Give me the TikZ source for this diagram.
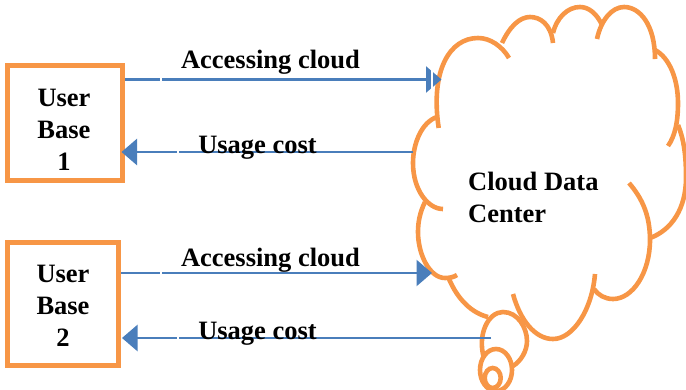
\documentclass[tikz,border=0pt]{standalone}
\usepackage{fontspec}
\setmainfont{Liberation Serif}
\usetikzlibrary{arrows.meta,calc}
\definecolor{cloudorange}{HTML}{F79646}
\definecolor{linkblue}{HTML}{4A7EBB}
\tikzset{
  x=1pt,y=-1pt,
  boldtext/.style={font=\fontsize{26.5}{32}\selectfont\bfseries,inner sep=0pt},
  userbox/.style={draw=cloudorange,line width=5pt,inner sep=0pt},
  usertext/.style={boldtext,align=center},
  lobe/.style={draw=cloudorange,line width=4.6pt},
  link/.style={draw=linkblue,line width=2.6pt,-{Triangle[length=15.5pt,width=26pt,fill=linkblue]}},
  gap/.style={draw=white,line width=1.2pt},
}
\begin{document}
\begin{tikzpicture}
\useasboundingbox (0,0) rectangle (686,389);
\clip (0,0) rectangle (686,389);
% cloud lobes
\draw[lobe] (438.7,128) .. controls (430,70) and (450,38) .. (478,38) .. controls (490,38) and (502,46) .. (509,58);
\draw[lobe] (502,43) .. controls (510,26) and (520,17) .. (530,17) .. controls (540,17) and (551,24) .. (553,43);
\draw[lobe] (553,33) .. controls (557,17) and (568,7) .. (580,7) .. controls (589,7) and (597,14) .. (602,25);
\draw[lobe] (597,39) .. controls (601,20) and (612,7) .. (624,7) .. controls (640,7) and (655,25) .. (655,59);
\draw[lobe] (655,50) .. controls (670,58) and (678,80) .. (678,103) .. controls (678,122) and (675,136) .. (668,146);
\draw[lobe] (678,125) .. controls (684,140) and (686,155) .. (686,178) .. controls (686,208) and (672,230) .. (650,238);
\draw[lobe] (629,183) .. controls (642,198) and (650,215) .. (650,240) .. controls (650,272) and (633,299) .. (613,299) .. controls (605,299) and (598,295) .. (594,289);
\draw[lobe] (595,274) .. controls (592,310) and (573,339) .. (553,339) .. controls (535,339) and (520,320) .. (513,294);
\draw[lobe] (449,279) .. controls (458,300) and (472,313) .. (488,317);
\draw[lobe] (425,202) .. controls (420,212) and (418,222) .. (418,232) .. controls (418,255) and (430,278) .. (445,278) .. controls (450,278) and (454,277) .. (457,275);
\draw[lobe] (437,117) .. controls (422,122) and (413,143) .. (413,163) .. controls (413,190) and (428,209) .. (443,209);
% small puffs
\draw[lobe] (484,358) .. controls (477,335) and (488,312) .. (503,312) .. controls (518,312) and (527,328) .. (527,341) .. controls (527,351) and (521,361) .. (513,366);
\draw[lobe] (496,370) ellipse (16 and 21);
\draw[lobe] (492.7,378) ellipse (8 and 10);
% nodes
\node[userbox,minimum width=115pt,minimum height=115pt] (ub1) at (65,123) {};
\node[userbox,minimum width=111pt,minimum height=123pt] (ub2) at (63,304) {};
\node[usertext] (ub1t) at (64,129.5) {User\\Base\\1};
\node[usertext] (ub2t) at (63,305.5) {User\\Base\\2};
\coordinate (cloudin1) at (441.5,79.5);
\coordinate (cloudout1) at (413,152);
\coordinate (cloudin2) at (432,273);
\coordinate (cloudout2) at (491,338);
\node[boldtext,align=left,anchor=north west] (dc) at (468,172) {Cloud Data\\Center};
% connectors
\draw[link] (ub1.east|-cloudin1) -- (cloudin1);
\fill[white] (431,66) rectangle (432.5,93);
\draw[link] (cloudout1) -- ($(ub1.east|-cloudout1)+(-3.5,0)$);
\draw[link] (ub2.east|-cloudin2) -- (cloudin2);
\draw[link] (cloudout2) -- ($(ub2.east|-cloudout2)+(1,0)$);
\draw[gap] (161,77) -- (161,82);
\draw[gap] (161,270.5) -- (161,275.5);
\draw[gap] (178,149.5) -- (178,154.5);
\draw[gap] (178,335.5) -- (178,340.5);
% labels
\node[boldtext] (l1) at (270.5,62) {Accessing cloud};
\node[boldtext] (l2) at (257.5,148) {Usage cost};
\node[boldtext] (l3) at (270.5,260) {Accessing cloud};
\node[boldtext] (l4) at (257.5,334) {Usage cost};
\end{tikzpicture}
\end{document}
